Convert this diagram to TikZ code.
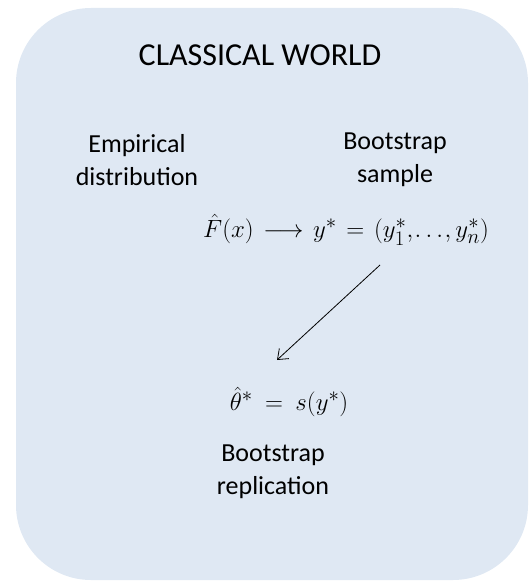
\documentclass[tikz,border=0pt]{standalone}
\usepackage{amsmath}
\usepackage{fontspec}
\setmainfont{Carlito}
\usetikzlibrary{arrows.meta}
\definecolor{bgblue}{RGB}{223,232,243}
\begin{document}
\begin{tikzpicture}[x=1pt,y=-1pt,
  lbl/.style={font=\fontsize{26}{33}\selectfont, align=center, inner sep=0pt},
  eq/.style={inner sep=0pt},
  conn/.style={draw=black, line width=0.8pt, -{Straight Barb[length=9pt,width=14pt]}}]
\useasboundingbox (0,0) rectangle (528,583);
\fill[bgblue, rounded corners=75pt] (16,8) rectangle (528,580);
\node[font=\fontsize{32}{38}\selectfont, inner sep=0pt] (title) at (260,55) {CLASSICAL WORLD};
\node[lbl] (emp) at (137,160) {Empirical\\distribution};
\node[lbl] (bs) at (395,160) {Bootstrap\\sample};
\node[eq, font=\fontsize{28}{33}\selectfont] (eq1) at (346,230) {$\thickmuskip=7mu\hat F(x)\longrightarrow y^{*}=(y_1^{*},\mkern-2mu\ldots\mkern-2mu,y_n^{*})$};
\node[eq, font=\fontsize{30}{36}\selectfont] (eq2) at (289,402) {$\thickmuskip=9mu\hat\theta^{*}=s(y^{*})$};
\node[lbl] (rep) at (273,472) {Bootstrap\\replication};
\coordinate (a1) at (380,265);
\coordinate (a2) at (277,360);
\draw[conn] (a1) -- (a2);
\end{tikzpicture}
\end{document}
